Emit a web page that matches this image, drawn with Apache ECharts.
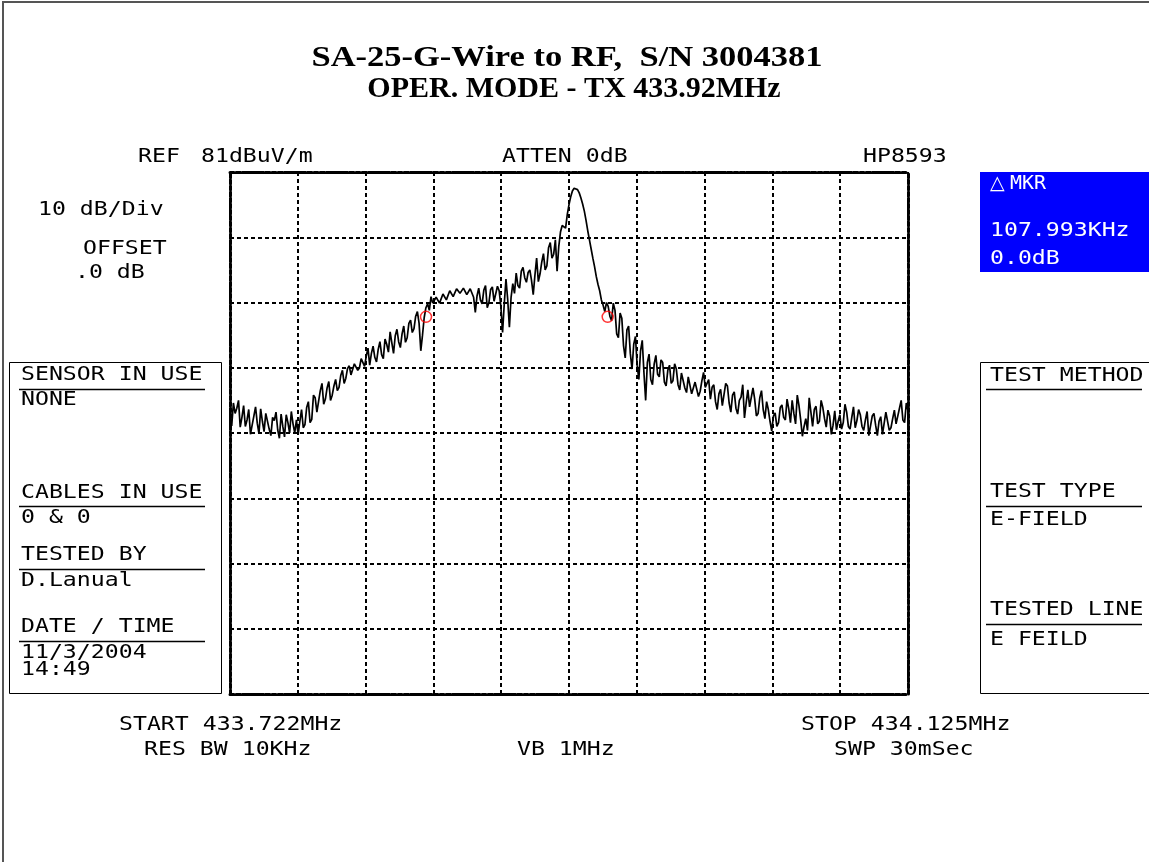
<!DOCTYPE html>
<html>
<head>
<meta charset="utf-8">
<script src="https://cdn.jsdelivr.net/npm/echarts@6/dist/echarts.min.js"></script>
<style>
html,body{margin:0;padding:0;background:#fff;}
#chart{width:1149px;height:862px;}
</style>
</head>
<body>
<div id="chart"></div>
<script>
// ---- DATA ----
var startFreqMHz = 433.722;
var stopFreqMHz = 434.125;
var refLevel = 81;          // dBuV/m, top of the screen
var dbPerDiv = 10;
var numDivY = 8;
var numDivX = 10;

// trace amplitude (dBuV/m), equally spaced sweep points from START to STOP
var traceDb = [
43.5,42.1,45.6,44.0,44.8,46.0,41.9,43.4,45.2,42.0,43.0,44.6,40.8,42.2,43.6,45.0,42.5,40.9,44.7,42.8,
41.2,44.0,43.8,41.6,40.6,43.4,42.9,44.2,41.5,40.2,43.9,42.0,40.4,43.8,42.6,41.0,44.3,42.4,41.0,43.0,
40.7,42.8,44.6,41.8,42.3,44.9,45.8,42.6,43.1,46.8,46.4,44.2,44.0,47.5,48.6,45.4,46.2,47.9,48.9,46.0,
46.8,48.2,49.2,47.5,48.0,49.8,50.6,48.6,49.4,50.9,51.3,49.9,50.2,51.6,51.8,50.6,51.0,52.4,52.1,51.2,
52.8,54.0,51.4,53.2,54.3,52.6,51.9,53.8,55.0,53.0,52.4,55.4,54.6,53.4,56.5,54.8,53.2,55.9,56.9,55.0,
54.1,56.2,57.4,54.9,55.6,57.8,58.3,56.4,57.0,58.9,59.6,57.8,53.6,56.0,58.7,60.2,60.8,59.8,61.9,60.9,
60.6,61.8,62.0,60.9,61.2,62.3,62.5,61.4,61.6,62.8,62.6,61.9,62.1,63.1,63.0,62.4,62.7,63.2,62.9,62.2,
62.4,63.1,62.8,61.8,59.5,62.0,63.2,61.4,60.8,62.9,63.6,60.2,61.0,63.0,63.4,61.2,61.5,63.5,62.8,60.4,
56.4,60.8,64.6,61.5,57.2,61.8,63.9,62.4,65.5,63.6,63.2,65.8,66.4,64.8,64.1,65.6,66.0,64.4,62.2,65.2,
67.8,64.2,65.4,67.2,68.5,66.0,66.6,69.4,70.2,67.8,68.4,70.6,65.8,69.6,71.8,72.8,73.0,72.4,74.5,76.0,
77.2,78.1,78.5,78.7,78.3,77.8,77.0,76.1,75.0,73.6,72.0,70.6,69.2,67.8,66.5,65.0,63.8,62.8,61.4,60.6,
59.6,61.0,60.4,58.9,58.2,60.9,59.8,56.2,55.6,59.4,58.6,54.4,52.5,56.8,57.4,53.2,50.8,54.6,55.8,51.4,
49.2,53.6,55.2,50.2,46.0,51.8,53.1,49.2,48.4,51.6,52.9,50.0,49.6,52.2,51.8,48.8,48.2,50.6,51.4,48.6,
49.0,51.6,50.8,48.4,47.6,50.2,49.9,47.9,47.2,49.6,49.3,47.0,46.9,48.8,48.6,46.6,47.4,49.0,50.3,48.0,
47.8,49.2,46.2,48.0,48.4,45.8,44.6,47.0,47.7,45.2,45.1,48.6,48.2,45.6,44.2,46.8,47.3,44.8,43.9,46.0,
46.5,48.4,43.3,45.6,47.6,45.0,44.8,47.9,46.2,43.6,44.0,46.4,47.5,44.6,43.2,45.8,44.6,42.8,41.3,43.6,
44.1,42.0,42.6,44.9,45.3,43.4,43.0,46.2,44.7,42.6,46.0,44.0,42.4,46.8,45.2,43.0,40.5,42.0,43.2,41.4,
46.4,44.2,42.0,44.6,45.1,42.4,42.8,46.0,44.9,43.2,41.9,44.5,43.6,40.8,42.2,44.4,41.5,42.8,43.8,41.6,
42.6,45.4,44.2,42.0,41.6,43.4,45.0,41.8,42.9,44.6,43.8,42.0,41.4,43.0,44.3,40.6,42.1,43.6,44.0,42.2,
40.6,42.8,43.5,40.8,41.0,44.2,43.9,41.4,41.8,43.2,44.5,42.4,42.2,44.8,46.0,43.0,42.6,45.6,44.4
];

// delta-marker pair (MHz, dBuV/m)
var markerFreqs = [433.8385, 433.9465];
var markerLevels = [58.8, 58.8];

// ---- TEXTS ----
var titleLines = ['SA-25-G-Wire to RF,  S/N 3004381', 'OPER. MODE - TX 433.92MHz'];
var headerTexts = ['REF', '81dBuV/m', 'ATTEN 0dB', 'HP8593'];
var scaleTexts = ['10 dB/Div', 'OFFSET', '.0 dB'];
var leftPanelTitles = ['SENSOR IN USE', 'CABLES IN USE', 'TESTED BY', 'DATE / TIME'];
var leftPanelValues = ['NONE', '0 & 0', 'D.Lanual', '11/3/2004', '14:49'];
var markerTexts = ['MKR', '107.993KHz', '0.0dB'];
var rightPanelTitles = ['TEST METHOD', 'TEST TYPE', 'TESTED LINE'];
var rightPanelValues = ['E-FIELD', 'E FEILD'];
var footerTexts = ['START 433.722MHz', 'RES BW 10KHz', 'VB 1MHz', 'STOP 434.125MHz', 'SWP 30mSec'];

// ---- BUILD ----
var traceData = traceDb.map(function (v, i) {
  return [startFreqMHz + i * (stopFreqMHz - startFreqMHz) / (traceDb.length - 1), v];
});
var markerData = markerFreqs.map(function (f, i) { return [f, markerLevels[i]]; });

var MONO = '19px "DejaVu Sans Mono", monospace';
var SX = 1.22;
function T(x, y, text, opts) {
  opts = opts || {};
  return {
    type: 'text', x: x, y: y, scaleX: opts.sx || SX, z: 100,
    style: {
      text: text, x: 0, y: 0,
      font: opts.font || MONO,
      fill: opts.fill || '#000',
      align: opts.align || 'left', textAlign: opts.align || 'left',
      verticalAlign: 'middle', textVerticalAlign: 'middle'
    }
  };
}
function L(x1, y1, x2, y2, w, c) {
  return { type: 'line', z: 90, shape: { x1: x1, y1: y1, x2: x2, y2: y2 },
    style: { stroke: c || '#000', lineWidth: w || 1 } };
}
function R(x, y, w, h, fill, stroke, lw) {
  return { type: 'rect', z: 80, shape: { x: x, y: y, width: w, height: h },
    style: { fill: fill || 'none', stroke: stroke || null, lineWidth: lw || 0 } };
}

var g = [];
// outer frame
g.push(R(3, 2, 1170, 880, 'none', '#555', 2));
// title
var TFONT = 'bold 30px "Liberation Serif", serif';
g.push(T(567, 58, titleLines[0], { font: TFONT, align: 'center', sx: 1.15 }));
g.push(T(574, 89, titleLines[1], { font: TFONT, align: 'center', sx: 1.0 }));
// header
g.push(T(138, 157, headerTexts[0]));
g.push(T(201, 157, headerTexts[1]));
g.push(T(502, 157, headerTexts[2]));
g.push(T(863, 157, headerTexts[3]));
// scale texts
g.push(T(38, 210, scaleTexts[0]));
g.push(T(83, 249, scaleTexts[1]));
g.push(T(75, 273, scaleTexts[2]));
// left panel
g.push(R(9.5, 362.5, 212, 331, 'none', '#000', 1));
var lt = [375, 493, 555, 627], lu = [389.5, 506.5, 569.5, 641.5];
for (var i = 0; i < 4; i++) {
  g.push(T(21, lt[i], leftPanelTitles[i]));
  g.push(L(19, lu[i], 205, lu[i], 1.5));
}
var lv = [400, 518, 581, 653, 670];
for (var j = 0; j < 5; j++) g.push(T(21, lv[j], leftPanelValues[j]));
// marker box
g.push(R(980, 172, 180, 100, '#0000fe', null, 0));
g.push(T(990, 184, '\u25B3', { font: '19px "DejaVu Sans", sans-serif', fill: '#fff', sx: 1 }));
g.push(T(1010, 184, markerTexts[0], { fill: '#fff', sx: 1.05 }));
g.push(T(990, 231, markerTexts[1], { fill: '#fff' }));
g.push(T(990, 259, markerTexts[2], { fill: '#fff' }));
// right panel
g.push(R(980.5, 362.5, 200, 331, 'none', '#000', 1));
var rt = [376, 492, 610], ru = [389.5, 506.5, 624.5];
for (var k = 0; k < 3; k++) {
  g.push(T(990, rt[k], rightPanelTitles[k]));
  g.push(L(986, ru[k], 1142, ru[k], 1.5));
}
g.push(T(990, 520, rightPanelValues[0]));
g.push(T(990, 640, rightPanelValues[1]));
// footer
g.push(T(119, 725, footerTexts[0]));
g.push(T(144, 750, footerTexts[1]));
g.push(T(517, 750, footerTexts[2]));
g.push(T(801, 725, footerTexts[3]));
g.push(T(834, 750, footerTexts[4]));

var borderLine = { show: true, lineStyle: { color: '#000', width: 3, type: [4, 2] } };
var gridLine = { show: true, lineStyle: { color: '#000', width: 2, type: [4, 3] } };

var option = {
  backgroundColor: '#fff',
  animation: false,
  grid: { left: 230, top: 172, right: 241, bottom: 168, containLabel: false },
  xAxis: [
    { type: 'value', min: startFreqMHz, max: stopFreqMHz, position: 'bottom',
      axisLine: borderLine, axisTick: { show: false }, axisLabel: { show: false }, splitLine: { show: false } },
    { type: 'value', min: 0, max: numDivX, interval: 1, position: 'top',
      axisLine: borderLine, axisTick: { show: false }, axisLabel: { show: false }, splitLine: gridLine }
  ],
  yAxis: [
    { type: 'value', min: refLevel - dbPerDiv * numDivY, max: refLevel, position: 'left',
      axisLine: borderLine, axisTick: { show: false }, axisLabel: { show: false }, splitLine: { show: false } },
    { type: 'value', min: 0, max: numDivY, interval: 1, position: 'right',
      axisLine: borderLine, axisTick: { show: false }, axisLabel: { show: false }, splitLine: gridLine }
  ],
  series: [
    { type: 'line', xAxisIndex: 0, yAxisIndex: 0, data: traceData, showSymbol: false,
      lineStyle: { color: '#000', width: 1.7 }, z: 5 },
    { type: 'scatter', xAxisIndex: 0, yAxisIndex: 0, data: markerData, symbol: 'circle', symbolSize: 11,
      itemStyle: { color: 'rgba(255,255,255,0)', borderColor: '#ff0000', borderWidth: 1.5 }, z: 6 }
  ],
  graphic: g
};
var chart = echarts.init(document.getElementById('chart'), null, { renderer: 'canvas' });
chart.setOption(option);
</script>
</body>
</html>
